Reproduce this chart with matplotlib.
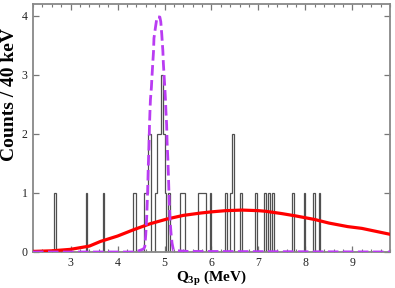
import numpy as np
import matplotlib.pyplot as plt

plt.rcParams['font.family'] = ['Liberation Serif', 'DejaVu Serif']
plt.rcParams['mathtext.fontset'] = 'custom'
plt.rcParams['mathtext.rm'] = 'Liberation Serif'
plt.rcParams['mathtext.bf'] = 'Liberation Serif:bold'

# measured events (MeV), one entry per count, 40 keV bins
bin_width = 0.04
events = [2.66, 3.34, 3.70, 4.34, 4.38, 4.58, 4.62, 4.66, 4.66, 4.70, 4.70,
          4.82, 4.86, 4.86, 4.90, 4.90, 4.94, 4.94, 4.94, 4.98, 4.98, 5.02, 5.10,
          5.34, 5.38, 5.42, 5.74, 5.78, 5.82, 5.86, 5.98, 6.30, 6.42, 6.46, 6.46,
          6.62, 6.94, 7.14, 7.22, 7.30, 7.74, 7.98, 8.18, 8.30]

# simulated peak (dashed purple)
sim_x = [2.20, 4.40, 4.45, 4.55, 4.58, 4.60, 4.62, 4.64, 4.655, 4.67, 4.68, 4.69,
         4.70, 4.72, 4.735, 4.75, 4.765, 4.775, 4.81, 4.84, 4.90, 4.92, 4.94,
         4.965, 4.975, 4.99, 5.005, 5.02, 5.03, 5.045, 5.055, 5.07, 5.085, 5.10,
         5.12, 5.14, 5.16, 5.19, 5.30, 5.50, 9.80]
sim_y = [0.0, 0.0, 0.02, 0.05, 0.09, 0.29, 0.58, 1.02, 1.47, 1.81, 2.15, 2.38,
         2.58, 2.78, 3.0, 3.2, 3.39, 3.62, 3.82, 3.98, 3.98, 3.9, 3.7,
         3.4, 3.2, 3.0, 2.8, 2.58, 2.38, 2.15, 1.85, 1.59, 1.25, 0.85,
         0.51, 0.30, 0.15, 0.03, 0.02, 0.01, 0.0]

# broad distribution (red)
fit_x = [2.2, 2.6, 3.0, 3.4, 3.64, 4.0, 4.35, 4.7, 5.06, 5.4, 5.77, 6.0, 6.3,
         6.65, 7.0, 7.15, 7.5, 7.8, 8.2, 8.5, 8.9, 9.2, 9.5, 9.8]
fit_y = [0.01, 0.02, 0.045, 0.10, 0.18, 0.27, 0.38, 0.48, 0.56, 0.62, 0.66, 0.68, 0.70,
         0.71, 0.70, 0.69, 0.65, 0.61, 0.55, 0.49, 0.43, 0.40, 0.35, 0.30]

fig = plt.figure(figsize=(3.95, 2.88), dpi=100)
ax = fig.add_axes([33 / 395, 1 - 252 / 288, 357 / 395, 248 / 288])

bins = np.arange(2.2, 9.8 + bin_width / 2, bin_width)
ax.hist(events, bins=bins, histtype='step', color='#505050', lw=0.9, zorder=2)
ax.plot(fit_x, fit_y, color='#ff0000', lw=2.3, zorder=3)
ax.plot(sim_x, sim_y, color='#b93cf2', lw=2.0, linestyle=(0, (3.8, 1.6)), zorder=4)

ax.set_xlim(2.2, 9.8)
ax.set_ylim(0, 4.2)
ax.set_xticks(range(3, 10))
ax.set_xticks(np.arange(2.2, 9.81, 0.2), minor=True)
ax.set_yticks(range(0, 5))
ax.tick_params(which='both', direction='in', top=True, right=True, colors='#777777',
               labelcolor='#222222', labelsize=8.5)
ax.tick_params(which='major', length=4, width=0.9)
ax.tick_params(which='minor', length=2, width=0.8)
ax.tick_params(axis='x', pad=3.5)
ax.tick_params(axis='y', pad=4)
for s in ax.spines.values():
    s.set_color('#888888')
    s.set_linewidth(1.3)

ax.set_xlabel(r'$\mathbf{Q_{3p}}$ (MeV)', fontsize=11, fontweight='bold', labelpad=0)
ax.set_ylabel('Counts / 40 keV', fontsize=14, fontweight='bold')
ax.yaxis.set_label_coords(-0.043, 0.637)

fig.savefig('out.png', dpi=100)
